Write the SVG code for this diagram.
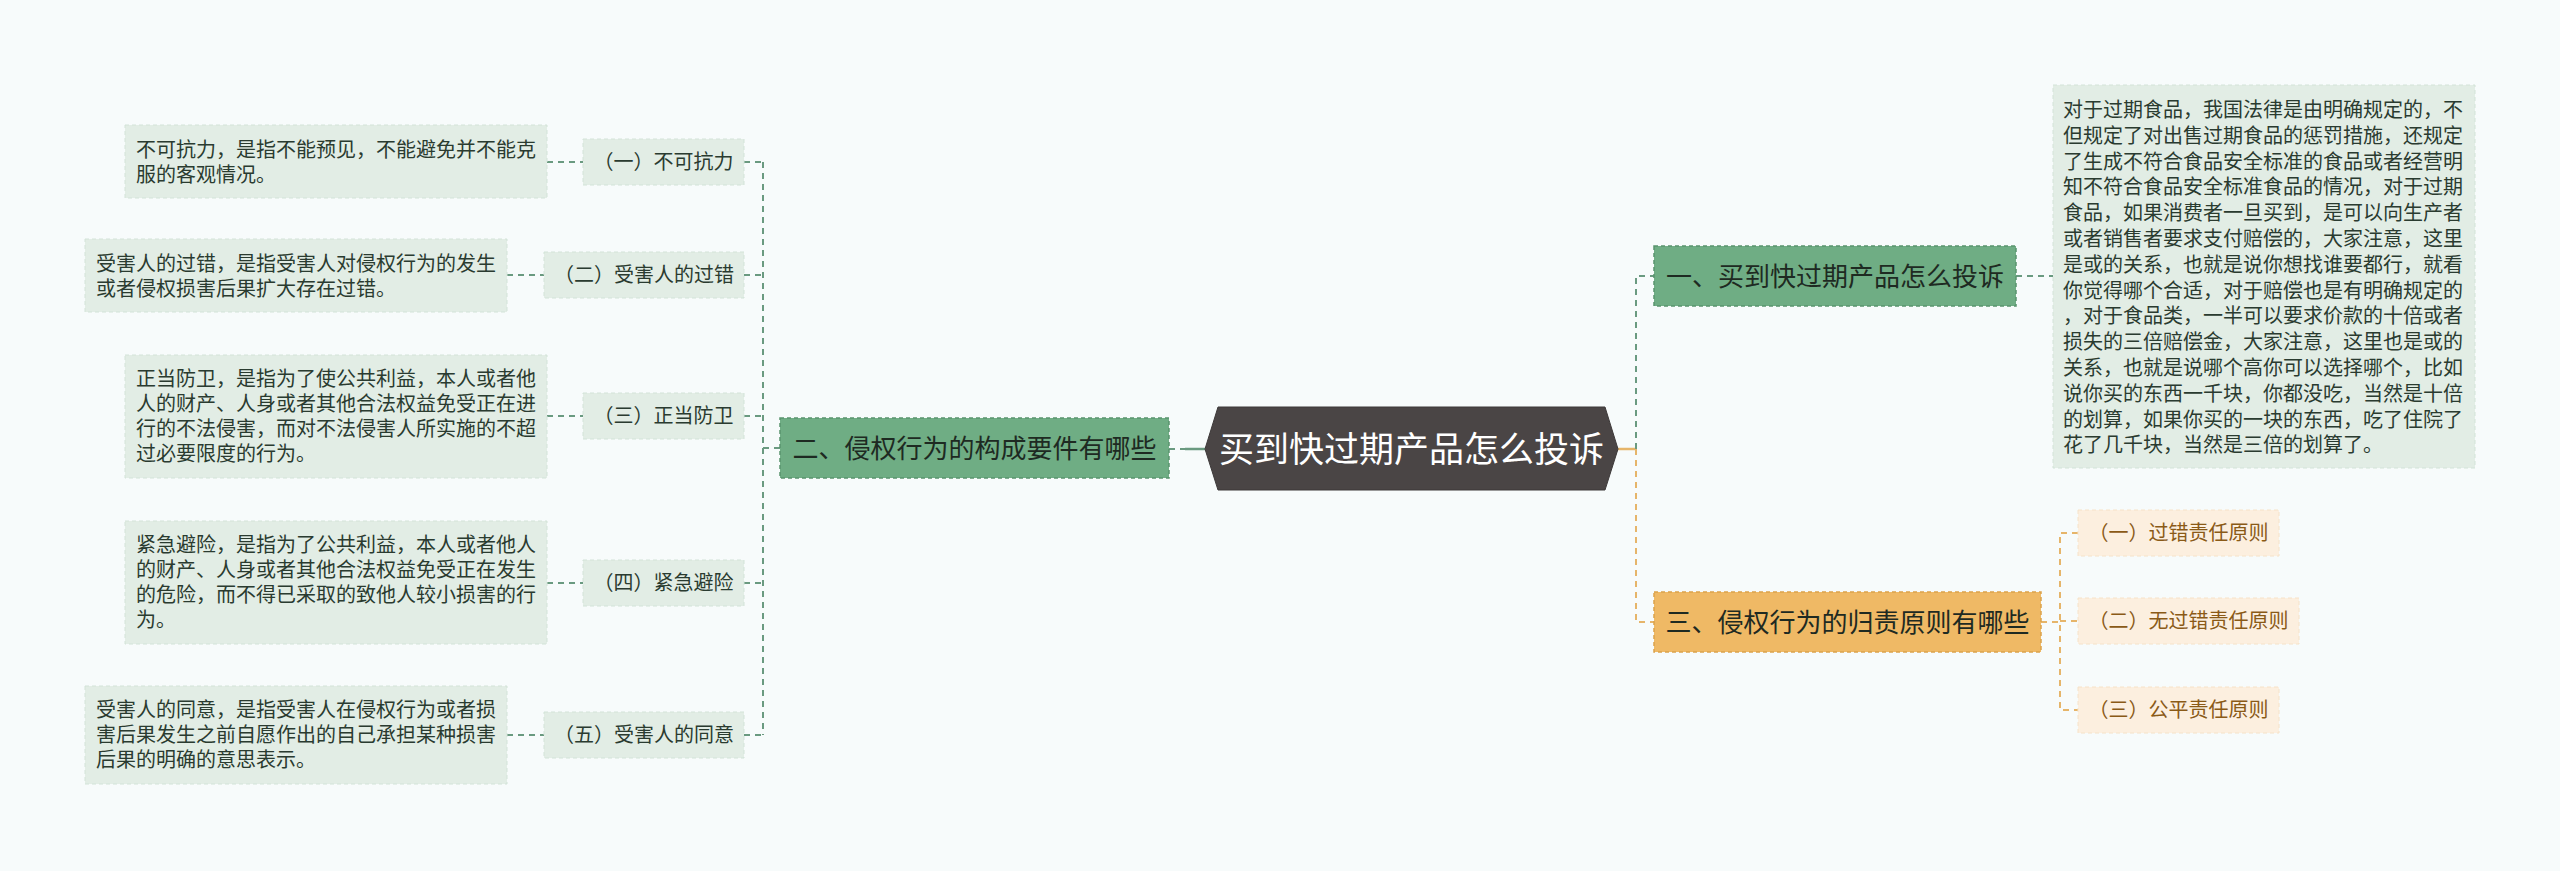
<svg xmlns="http://www.w3.org/2000/svg" width="2560" height="871" viewBox="0 0 2560 871">
<defs>
<style>
text{font-family:"Noto Sans CJK SC","Noto Sans",sans-serif;}
.bg{fill:#f7fbfb;}
.root{fill:#4a4545;stroke:#3d3939;stroke-width:1;}
.roott{fill:#ffffff;font-size:35px;text-anchor:middle;}
.g1{fill:#6fad84;stroke:#5a946d;stroke-width:1.5;stroke-dasharray:4 3;}
.o1{fill:#efb965;stroke:#dca24b;stroke-width:1.5;stroke-dasharray:4 3;}
.t1{fill:#1e2a22;font-size:26px;text-anchor:middle;}
.gl{fill:#e2ede5;stroke:#d3e3d8;stroke-width:1;stroke-dasharray:4 3;}
.ol{fill:#fcefdf;stroke:#f6e2c8;stroke-width:1;stroke-dasharray:4 3;}
.tl{fill:#2a3b30;font-size:20px;text-anchor:middle;}
.to{fill:#8a5a17;font-size:20px;text-anchor:middle;}
.td{fill:#2a3b30;font-size:20px;}
.cg{fill:none;stroke:#6a9a80;stroke-width:2;stroke-dasharray:6 5;}
.co{fill:none;stroke:#e6b56a;stroke-width:2;stroke-dasharray:6 5;}
.cgs{fill:none;stroke:#6a9a80;stroke-width:2.5;}
.cos{fill:none;stroke:#e6b56a;stroke-width:2.5;}
</style>
</defs>
<rect class="bg" x="0" y="0" width="2560" height="871"/>

<g id="connectors">
<path class="cgs" d="M1185 449 H1205"/>
<path class="cg" d="M1169 449 H1185"/>
<path class="cg" d="M780 448 H763"/>
<path class="cg" d="M763 162 V735"/>
<path class="cg" d="M744 162 H763"/>
<path class="cg" d="M744 275 H763"/>
<path class="cg" d="M744 416 H763"/>
<path class="cg" d="M744 583 H763"/>
<path class="cg" d="M744 735 H763"/>
<path class="cg" d="M547 162 H583"/>
<path class="cg" d="M507 275 H544"/>
<path class="cg" d="M547 416 H583"/>
<path class="cg" d="M547 583 H583"/>
<path class="cg" d="M507 735 H544"/>
<path class="cos" d="M1618 449 H1636"/>
<path class="cg" d="M1636 449 V276 H1654"/>
<path class="co" d="M1636 449 V622 H1654"/>
<path class="cg" d="M2016 276 H2053"/>
<path class="co" d="M2041 622 H2060"/>
<path class="co" d="M2078 533 H2060 V710 H2078"/>
<path class="co" d="M2060 621 H2078"/>
</g>

<g id="root">
<polygon class="root" points="1205,449 1218,407 1605,407 1618,449 1605,490 1218,490"/>
<text class="roott" x="1411.5" y="462">买到快过期产品怎么投诉</text>
</g>

<g id="n1">
<rect class="g1" x="1654" y="246" width="362" height="60"/>
<text class="t1" x="1835" y="285.5">一、买到快过期产品怎么投诉</text>
</g>
<g id="n1d">
<rect class="gl" x="2053" y="85" width="422" height="383"/>
<text class="td" x="2063" y="117">
<tspan x="2063" y="117">对于过期食品，我国法律是由明确规定的，不</tspan>
<tspan x="2063" y="142.8">但规定了对出售过期食品的惩罚措施，还规定</tspan>
<tspan x="2063" y="168.6">了生成不符合食品安全标准的食品或者经营明</tspan>
<tspan x="2063" y="194.4">知不符合食品安全标准食品的情况，对于过期</tspan>
<tspan x="2063" y="220.2">食品，如果消费者一旦买到，是可以向生产者</tspan>
<tspan x="2063" y="246">或者销售者要求支付赔偿的，大家注意，这里</tspan>
<tspan x="2063" y="271.8">是或的关系，也就是说你想找谁要都行，就看</tspan>
<tspan x="2063" y="297.6">你觉得哪个合适，对于赔偿也是有明确规定的</tspan>
<tspan x="2063" y="323.4">，对于食品类，一半可以要求价款的十倍或者</tspan>
<tspan x="2063" y="349.2">损失的三倍赔偿金，大家注意，这里也是或的</tspan>
<tspan x="2063" y="375">关系，也就是说哪个高你可以选择哪个，比如</tspan>
<tspan x="2063" y="400.8">说你买的东西一千块，你都没吃，当然是十倍</tspan>
<tspan x="2063" y="426.6">的划算，如果你买的一块的东西，吃了住院了</tspan>
<tspan x="2063" y="452.4">花了几千块，当然是三倍的划算了。</tspan>
</text>
</g>

<g id="n2">
<rect class="g1" x="780" y="418" width="389" height="60"/>
<text class="t1" x="974.5" y="457.5">二、侵权行为的构成要件有哪些</text>
</g>

<g id="n3">
<rect class="o1" x="1654" y="592" width="387" height="60"/>
<text class="t1" x="1847.5" y="631.5">三、侵权行为的归责原则有哪些</text>
</g>

<g id="o1">
<rect class="ol" x="2078" y="510" width="201" height="46"/>
<text class="to" x="2178.5" y="540">（一）过错责任原则</text>
</g>
<g id="o2">
<rect class="ol" x="2078" y="598" width="221" height="46"/>
<text class="to" x="2188.5" y="628">（二）无过错责任原则</text>
</g>
<g id="o3">
<rect class="ol" x="2078" y="687" width="201" height="46"/>
<text class="to" x="2178.5" y="717">（三）公平责任原则</text>
</g>

<g id="l1">
<rect class="gl" x="583" y="139" width="161" height="46"/>
<text class="tl" x="663.5" y="169">（一）不可抗力</text>
</g>
<g id="l2">
<rect class="gl" x="544" y="252" width="200" height="46"/>
<text class="tl" x="644" y="282">（二）受害人的过错</text>
</g>
<g id="l3">
<rect class="gl" x="583" y="393" width="161" height="46"/>
<text class="tl" x="663.5" y="423">（三）正当防卫</text>
</g>
<g id="l4">
<rect class="gl" x="583" y="560" width="161" height="46"/>
<text class="tl" x="663.5" y="590">（四）紧急避险</text>
</g>
<g id="l5">
<rect class="gl" x="544" y="712" width="200" height="46"/>
<text class="tl" x="644" y="742">（五）受害人的同意</text>
</g>

<g id="d1">
<rect class="gl" x="125" y="125" width="422" height="73"/>
<text class="td"><tspan x="136" y="157">不可抗力，是指不能预见，不能避免并不能克</tspan><tspan x="136" y="182">服的客观情况。</tspan></text>
</g>
<g id="d2">
<rect class="gl" x="85" y="239" width="422" height="73"/>
<text class="td"><tspan x="96" y="271">受害人的过错，是指受害人对侵权行为的发生</tspan><tspan x="96" y="296">或者侵权损害后果扩大存在过错。</tspan></text>
</g>
<g id="d3">
<rect class="gl" x="125" y="355" width="422" height="123"/>
<text class="td"><tspan x="136" y="386">正当防卫，是指为了使公共利益，本人或者他</tspan><tspan x="136" y="411">人的财产、人身或者其他合法权益免受正在进</tspan><tspan x="136" y="436">行的不法侵害，而对不法侵害人所实施的不超</tspan><tspan x="136" y="461">过必要限度的行为。</tspan></text>
</g>
<g id="d4">
<rect class="gl" x="125" y="521" width="422" height="123"/>
<text class="td"><tspan x="136" y="552">紧急避险，是指为了公共利益，本人或者他人</tspan><tspan x="136" y="577">的财产、人身或者其他合法权益免受正在发生</tspan><tspan x="136" y="602">的危险，而不得已采取的致他人较小损害的行</tspan><tspan x="136" y="627">为。</tspan></text>
</g>
<g id="d5">
<rect class="gl" x="85" y="686" width="422" height="98"/>
<text class="td"><tspan x="96" y="717">受害人的同意，是指受害人在侵权行为或者损</tspan><tspan x="96" y="742">害后果发生之前自愿作出的自己承担某种损害</tspan><tspan x="96" y="767">后果的明确的意思表示。</tspan></text>
</g>
</svg>
